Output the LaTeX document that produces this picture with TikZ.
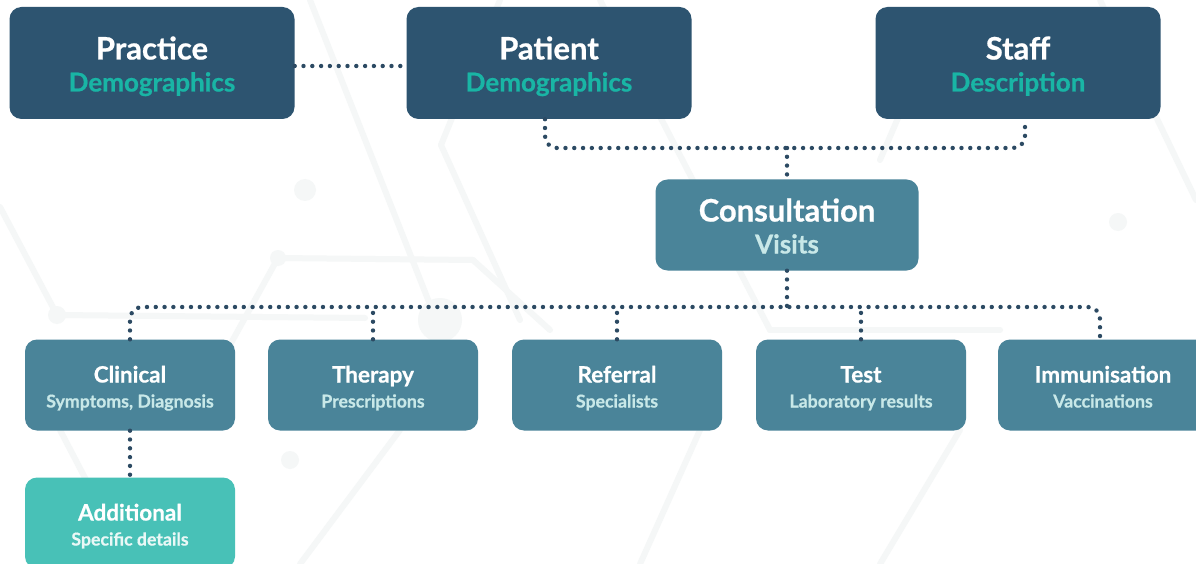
\documentclass[tikz,border=0pt]{standalone}
\usepackage{fontspec}
\setmainfont{Lato}[BoldFeatures={FakeBold=0.7}]
\usepackage{xcolor}
\usepackage{tikz}
\usetikzlibrary{positioning}
\usetikzlibrary{calc}

\definecolor{darkbox}{HTML}{2D5470}
\definecolor{midbox}{HTML}{4A8499}
\definecolor{lightbox}{HTML}{48C1B7}
\definecolor{tealtext}{HTML}{19B5A5}
\definecolor{paletext}{HTML}{C8E8E8}
\definecolor{dotcol}{HTML}{2C4A63}
\definecolor{bgline}{HTML}{F5F7F7}

\newcommand{\bigsub}{\fontsize{26}{32}\selectfont}
\newcommand{\smallsub}{\fontsize{17.7}{25}\selectfont}

\begin{document}
\begin{tikzpicture}[x=1pt,y=-1pt,
	bigbox/.style={rounded corners=12pt,inner sep=0pt,align=center,text=white,font=\bfseries\fontsize{31}{32}\selectfont,
		execute at begin node=\rule{0pt}{63pt},execute at end node=\rule[-6pt]{0pt}{6pt}},
	topbox/.style={bigbox,fill=darkbox,minimum width=285pt,minimum height=112pt},
	consultbox/.style={bigbox,fill=midbox,minimum width=263pt,minimum height=91pt},
	subbox/.style={fill=midbox,rounded corners=12pt,minimum width=210pt,minimum height=91pt,inner sep=0pt,align=center,text=white,font=\bfseries\fontsize{22.5}{25}\selectfont,
		execute at begin node=\rule{0pt}{50pt},execute at end node=\rule[-5pt]{0pt}{5pt}},
	dots/.style={dotcol,line width=4.4pt,line cap=round,dash pattern=on 0pt off 8.8pt},
	faint/.style={bgline,line width=6pt,line cap=round}]
	\useasboundingbox (0,0) rectangle (1196,564);
	\fill[white] (0,0) rectangle (1196,564);
	% background network
	\draw[faint] (0,207) -- (57,315) -- (365,318);
	\draw[faint] (310,0) -- (440,330);
	\draw[faint] (230,345) -- (278,258) -- (473,260) -- (550,330);
	\draw[faint] (441,145) -- (500,0);
	\draw[faint] (441,145) -- (520,320);
	\draw[faint] (600,0) -- (770,330);
	\draw[faint] (770,330) -- (1000,330);
	\draw[faint] (880,160) -- (940,20);
	\draw[faint] (1100,0) -- (1196,200);
	\draw[faint] (60,430) -- (130,564);
	\draw[faint] (300,564) -- (400,430);
	\draw[faint] (640,564) -- (700,430);
	\draw[faint] (880,564) -- (960,430);
	\fill[bgline] (305,190) circle (11);
	\fill[bgline] (440,320) circle (22);
	\fill[bgline] (57,315) circle (9);
	\fill[bgline] (278,258) circle (8);
	\fill[bgline] (290,460) circle (9);
	\fill[bgline] (1118,222) circle (9);

	% top row
	\node[topbox] (practice) at (152,63) {Practice\\{\bigsub\color{tealtext}Demographics}};
	\node[topbox] (patient) at (549,63) {Patient\\{\bigsub\color{tealtext}Demographics}};
	\node[topbox] (staff) at (1018,63) {Staff\\{\bigsub\color{tealtext}Description}};
	\node[consultbox] (consult) at (787,225) {Consultation\\{\bigsub\color{paletext}Visits}};

	% second row
	\node[subbox] (clinical) at (130,385) {Clinical\\{\smallsub\color{paletext}Symptoms, Diagnosis}};
	\node[subbox] (therapy) at (373,385) {Therapy\\{\smallsub\color{paletext}Prescriptions}};
	\node[subbox] (referral) at (617,385) {Referral\\{\smallsub\color{paletext}Specialists}};
	\node[subbox] (test) at (861,385) {Test\\{\smallsub\color{paletext}Laboratory results}};
	\node[subbox] (immun) at (1103,385) {Immunisation\\{\smallsub\color{paletext}Vaccinations}};
	\node[subbox,fill=lightbox] (additional) at (130,523) {Additional\\{\smallsub\color{white!88!lightbox}Specific details}};

	% links
	\coordinate (topbus) at (787,148);
	\coordinate (lowbus) at (787,307);
	\draw[dots] ([yshift=-3pt]practice.east) -- ([yshift=-3pt]patient.west);
	\draw[dots,rounded corners=12pt] ([xshift=-4pt]patient.south) |- (topbus) -| ([xshift=7pt]staff.south);
	\draw[dots] (topbus) -- (consult.north);
	\draw[dots] (consult.south) -- (lowbus);
	\draw[dots,rounded corners=12pt] (clinical.north) |- (lowbus) -| ([xshift=-3pt]immun.north);
	\foreach \n in {therapy,referral,test}
		\draw[dots] (\n.north) -- (\n.north |- lowbus);
	\draw[dots] (clinical.south) -- (additional.north);
\end{tikzpicture}
\end{document}
